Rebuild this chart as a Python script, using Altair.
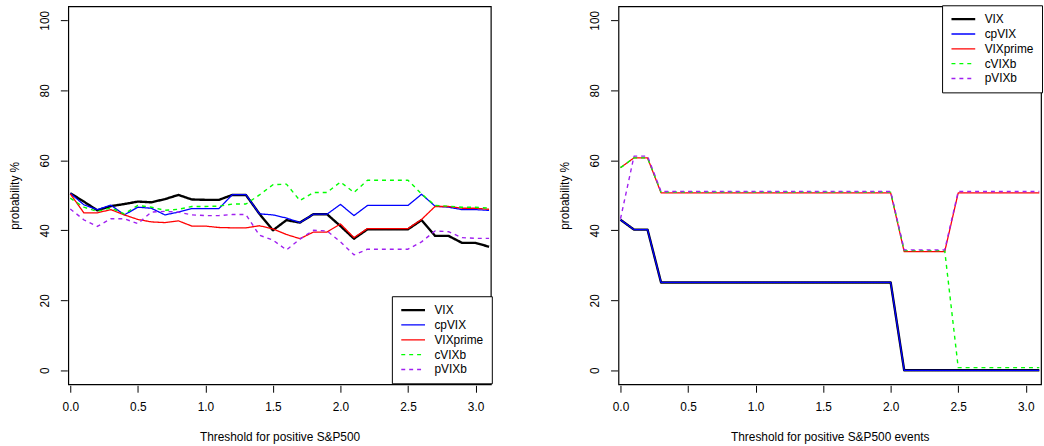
import altair as alt
import pandas as pd

FONT = "Liberation Sans"

# ---------------- data ----------------
threshold = [0.0, 0.1, 0.2, 0.3, 0.4, 0.5, 0.6, 0.7, 0.8, 0.9,
             1.0, 1.1, 1.2, 1.3, 1.4, 1.5, 1.6, 1.7, 1.8, 1.9,
             2.0, 2.1, 2.2, 2.3, 2.4, 2.5, 2.6, 2.7, 2.8, 2.9,
             3.0, 3.1]

series_names = ["VIX", "cpVIX", "VIXprime", "cVIXb", "pVIXb"]

# Left panel: Threshold for positive S&P500
vix_left = [50.6, 48.2, 45.7, 46.9, 47.5, 48.2, 48.0, 48.9, 50.1, 48.8,
            48.7, 48.7, 50.1, 50.1, 44.7, 40.0, 42.9, 42.2, 44.6, 44.6,
            41.2, 37.6, 40.3, 40.3, 40.3, 40.3, 42.9, 38.4, 38.4, 36.4,
            36.4, 35.3]
cpvix_left = [50.6, 47.3, 45.9, 47.2, 44.4, 46.6, 46.3, 44.4, 45.2, 46.2,
              46.2, 46.2, 50.2, 50.2, 44.7, 44.4, 43.5, 42.2, 44.6, 44.6,
              47.4, 44.2, 47.1, 47.1, 47.1, 47.1, 50.3, 46.9, 46.6, 45.9,
              45.9, 45.7]
vixprime_left = [50.4, 45.0, 45.0, 45.9, 44.4, 43.1, 42.4, 42.2, 42.7, 41.2,
                 41.2, 40.8, 40.7, 40.7, 41.3, 40.4, 38.8, 37.6, 39.5, 39.5,
                 41.8, 37.9, 40.5, 40.5, 40.5, 40.5, 43.1, 46.8, 46.8, 46.3,
                 46.3, 46.0]
cvixb_left = [49.2, 46.6, 45.4, 46.4, 44.7, 47.1, 46.6, 45.7, 46.0, 46.8,
              46.8, 46.9, 47.5, 47.5, 50.1, 53.0, 53.2, 48.5, 50.8, 50.8,
              53.8, 50.8, 54.3, 54.3, 54.3, 54.3, 50.4, 47.1, 46.9, 46.6,
              46.6, 46.3]
pvixb_left = [46.1, 43.0, 41.1, 43.3, 43.3, 41.9, 45.2, 45.4, 45.2, 44.4,
              44.2, 44.2, 44.5, 44.5, 38.6, 37.2, 34.4, 37.5, 40.0, 39.8,
              36.7, 33.0, 34.6, 34.6, 34.6, 34.6, 36.7, 39.8, 39.6, 37.9,
              37.7, 37.7]

# Right panel: Threshold for positive S&P500 events
vix_right = [43.0, 40.2, 40.2, 25.1, 25.1, 25.1, 25.1, 25.1, 25.1, 25.1,
             25.1, 25.1, 25.1, 25.1, 25.1, 25.1, 25.1, 25.1, 25.1, 25.1,
             25.1, 0.0, 0.0, 0.0, 0.0, 0.0, 0.0, 0.0, 0.0, 0.0,
             0.0, 0.0]
cpvix_right = [43.0, 40.2, 40.2, 25.1, 25.1, 25.1, 25.1, 25.1, 25.1, 25.1,
               25.1, 25.1, 25.1, 25.1, 25.1, 25.1, 25.1, 25.1, 25.1, 25.1,
               25.1, 0.0, 0.0, 0.0, 0.0, 0.0, 0.0, 0.0, 0.0, 0.0,
               0.0, 0.0]
vixprime_right = [57.9, 60.7, 60.7, 50.7, 50.7, 50.7, 50.7, 50.7, 50.7, 50.7,
                  50.7, 50.7, 50.7, 50.7, 50.7, 50.7, 50.7, 50.7, 50.7, 50.7,
                  50.7, 33.9, 33.9, 33.9, 33.9, 50.7, 50.7, 50.7, 50.7, 50.7,
                  50.7, 50.7]
cvixb_right = [57.9, 60.7, 60.7, 50.9, 50.9, 50.9, 50.9, 50.9, 50.9, 50.9,
               50.9, 50.9, 50.9, 50.9, 50.9, 50.9, 50.9, 50.9, 50.9, 50.9,
               50.9, 34.2, 34.2, 34.2, 34.2, 0.75, 0.75, 0.75, 0.75, 0.75,
               0.75, 0.75]
pvixb_right = [43.3, 61.2, 61.2, 51.1, 51.1, 51.1, 51.1, 51.1, 51.1, 51.1,
               51.1, 51.1, 51.1, 51.1, 51.1, 51.1, 51.1, 51.1, 51.1, 51.1,
               51.1, 34.4, 34.4, 34.4, 34.4, 51.1, 51.1, 51.1, 51.1, 51.1,
               51.1, 51.1]

x_ticks = [0.0, 0.5, 1.0, 1.5, 2.0, 2.5, 3.0]
y_ticks = [0, 20, 40, 60, 80, 100]

# ---------------- styles ----------------
colors = ["#000000", "#0000FF", "#FF0000", "#00FF00", "#A020F0"]
dashes = [[1, 0], [1, 0], [1, 0], [4, 4], [4, 4]]
widths = [2.4, 1.3, 1.3, 1.4, 1.4]


def to_long(cols):
    rows = []
    for name, vals in zip(series_names, cols):
        for t, v in zip(threshold, vals):
            rows.append({"t": t, "p": v, "series": name})
    return pd.DataFrame(rows)


left_df = to_long([vix_left, cpvix_left, vixprime_left, cvixb_left, pvixb_left])
right_df = to_long([vix_right, cpvix_right, vixprime_right, cvixb_right, pvixb_right])


def panel(df, xtitle, lx, ly):
    legend = alt.Legend(
        title=None, orient="none", legendX=lx, legendY=ly,
        symbolType="stroke", symbolSize=576, clipHeight=12, rowPadding=3,
        labelOffset=8, padding=8, strokeColor="black", fillColor="white",
        labelFontSize=12, labelFont=FONT, labelColor="black",
    )
    return alt.Chart(df).mark_line(strokeJoin="round").encode(
        x=alt.X("t:Q",
                scale=alt.Scale(domain=[-0.015, 3.113], nice=False, zero=False),
                axis=alt.Axis(title=xtitle, values=x_ticks, format=".1f",
                              labelPadding=9.5, titlePadding=19,
                              labelFlush=False)),
        y=alt.Y("p:Q",
                scale=alt.Scale(domain=[-4, 104], nice=False, zero=False),
                axis=alt.Axis(title="probability %", values=y_ticks,
                              labelAngle=270, labelAlign="center",
                              labelBaseline="bottom", labelPadding=9,
                              titlePadding=17)),
        color=alt.Color("series:N",
                        scale=alt.Scale(domain=series_names, range=colors),
                        legend=legend),
        strokeDash=alt.StrokeDash("series:N",
                                  scale=alt.Scale(type="ordinal", domain=series_names,
                                                  range=dashes),
                                  legend=legend),
        strokeWidth=alt.StrokeWidth("series:N",
                                    scale=alt.Scale(type="ordinal", domain=series_names,
                                                    range=widths),
                                    legend=legend),
    ).properties(width=427, height=382)


left = panel(left_df, "Threshold for positive S&P500", 327, 293)
right = panel(right_df, "Threshold for positive S&P500 events", 327, -1)

chart = alt.hconcat(left, right, spacing=65).resolve_scale(
    color="independent", strokeDash="independent", strokeWidth="independent"
).resolve_legend(
    color="independent", strokeDash="independent", strokeWidth="independent"
).properties(
    padding={"left": 8, "top": 1, "right": 0, "bottom": 0},
    background="white",
).configure_view(
    stroke="black", strokeWidth=1.2
).configure_axis(
    grid=False, domain=False, tickSize=7, offset=1, tickColor="black",
    tickWidth=1, labelFont=FONT, titleFont=FONT, labelFontSize=12,
    titleFontSize=12, titleFontWeight="normal", labelColor="black",
    titleColor="black",
)

chart.save("out.html", embed_options={"renderer": "svg", "actions": False})
